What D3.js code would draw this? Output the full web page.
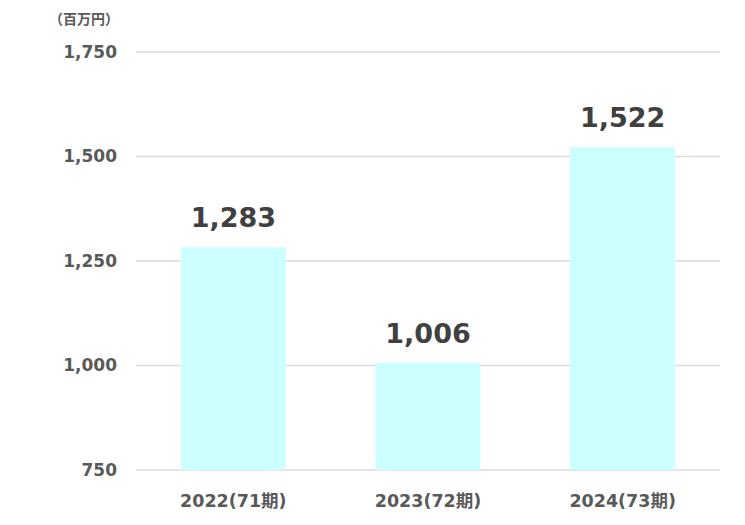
<!DOCTYPE html>
<html>
<head>
<meta charset="utf-8">
<script src="https://cdn.jsdelivr.net/npm/d3@7"></script>
<style>
  body { margin: 0; background: #fff; }
  text { font-family: Verdana, "DejaVu Sans", "Noto Sans CJK JP", sans-serif; }
</style>
</head>
<body>
<div id="chart"></div>
<script>
const categories = ["2022(71期)", "2023(72期)", "2024(73期)"];
const values = [1283, 1006, 1522];
const yTicks = [750, 1000, 1250, 1500, 1750];
const unitLabel = "（百万円）";

const width = 745;
const height = 525;
const margin = { top: 52, right: 25, bottom: 55, left: 136 };

const svg = d3.select("#chart")
  .append("svg")
  .attr("width", width)
  .attr("height", height);

const x = d3.scaleBand()
  .domain(categories)
  .range([margin.left, width - margin.right])
  .paddingInner(0.46)
  .paddingOuter(0.23);

const y = d3.scaleLinear()
  .domain([750, 1750])
  .range([height - margin.bottom, margin.top]);

// gridlines
svg.append("g")
  .selectAll("line")
  .data(yTicks)
  .enter()
  .append("line")
  .attr("x1", margin.left)
  .attr("x2", width - margin.right)
  .attr("y1", d => y(d))
  .attr("y2", d => y(d))
  .attr("stroke", "#d9d9d9")
  .attr("stroke-width", 1.5);

// bars
svg.append("g")
  .selectAll("rect")
  .data(values)
  .enter()
  .append("rect")
  .attr("x", (d, i) => x(categories[i]))
  .attr("width", x.bandwidth())
  .attr("y", d => y(d))
  .attr("height", d => y(750) - y(d))
  .attr("fill", "#ccffff");

// value labels
svg.append("g")
  .selectAll("text")
  .data(values)
  .enter()
  .append("text")
  .attr("x", (d, i) => x(categories[i]) + x.bandwidth() / 2)
  .attr("y", d => y(d) - 20)
  .attr("text-anchor", "middle")
  .attr("font-size", 27)
  .attr("font-weight", "bold")
  .attr("fill", "#404040")
  .text(d => d3.format(",")(d));

// y axis labels
svg.append("g")
  .selectAll("text")
  .data(yTicks)
  .enter()
  .append("text")
  .attr("x", 117)
  .attr("y", d => y(d))
  .attr("dy", "0.35em")
  .attr("text-anchor", "end")
  .attr("font-size", 17)
  .attr("font-weight", "bold")
  .attr("fill", "#595959")
  .text(d => d3.format(",")(d));

// x axis labels
svg.append("g")
  .selectAll("text")
  .data(categories)
  .enter()
  .append("text")
  .attr("x", d => x(d) + x.bandwidth() / 2)
  .attr("y", 507)
  .attr("text-anchor", "middle")
  .attr("font-size", 17.5)
  .attr("font-weight", "bold")
  .attr("fill", "#595959")
  .text(d => d);

// unit
svg.append("text")
  .attr("x", 119)
  .attr("y", 24)
  .attr("text-anchor", "end")
  .attr("font-size", 14)
  .attr("font-weight", "bold")
  .attr("fill", "#595959")
  .text(unitLabel);
</script>
</body>
</html>
